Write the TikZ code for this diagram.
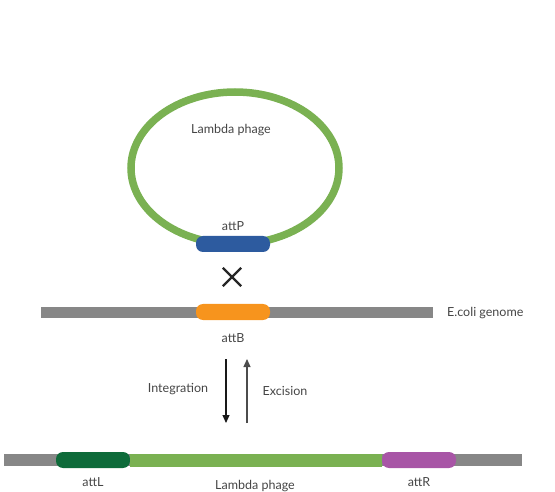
\documentclass[tikz,border=0pt]{standalone}
\usepackage{fontspec}
\setmainfont{Lato}
\usepackage{tikz}
\usetikzlibrary{arrows.meta,positioning}
\definecolor{phagegreen}{HTML}{7AB152}
\definecolor{genomegrey}{HTML}{878787}
\definecolor{attpblue}{HTML}{2D5B9F}
\definecolor{attborange}{HTML}{F7941D}
\definecolor{attlgreen}{HTML}{0E6B3A}
\definecolor{attrpurple}{HTML}{A855A6}
\definecolor{labelgrey}{HTML}{454545}
\tikzset{
  sitebox/.style={rounded corners=7pt,minimum width=74pt,minimum height=16pt,inner sep=0pt},
  sitelabel/.style={font=\fontsize{12.5}{14}\selectfont,text=labelgrey,inner sep=1pt},
  strand/.style={line width=11pt},
  steparrow/.style={-{Triangle[length=8pt,width=7pt]},line width=1.1pt}
}
\begin{document}
\begin{tikzpicture}[x=1pt,y=-1pt]
  \useasboundingbox (0,0) rectangle (555,492);
  % circular phage
  \draw[phagegreen,line width=7.5pt] (235,168) ellipse (104 and 76);
  \node[sitelabel] (phagetext) at (231,130) {Lambda phage};
  \node[sitebox,fill=attpblue] (attP) at (233,244) {};
  \node[sitelabel,above=4pt of attP] (attPtext) {attP};
  % crossover mark
  \node[minimum size=18pt,inner sep=0pt] (cross) at (232,277) {};
  \draw[line width=2.3pt,black!85] (cross.north west) -- (cross.south east)
    (cross.north east) -- (cross.south west);
  % E. coli genome
  \coordinate (genomeL) at (41,312);
  \coordinate (genomeR) at (433,312);
  \draw[strand,genomegrey] (genomeL) -- (genomeR);
  \node[sitebox,fill=attborange] (attB) at (233,312) {};
  \node[sitelabel,below=12pt of attB] (attBtext) {attB};
  \node[sitelabel,anchor=west] (genometext) at (446,313) {E.coli genome};
  % integration / excision
  \coordinate (intTop) at (226,359);
  \coordinate (intEnd) at (226,423);
  \coordinate (excBot) at (247,423);
  \coordinate (excEnd) at (247,359);
  \draw[steparrow,black!90] (intTop) -- (intEnd);
  \draw[steparrow,black!70] (excBot) -- (excEnd);
  \node[sitelabel] (inttext) at (178,389) {Integration};
  \node[sitelabel] (exctext) at (285,391) {Excision};
  % integrated prophage
  \coordinate (hostL) at (4,460);
  \coordinate (hostR) at (522,460);
  \draw[strand,line width=12pt,genomegrey] (hostL) -- (hostR);
  \node[sitebox,fill=attlgreen] (attL) at (93,460) {};
  \node[sitebox,fill=attrpurple] (attR) at (419,460) {};
  \draw[phagegreen,line width=13pt] (attL.east) -- (attR.west);
  \node[sitelabel,below=8pt of attL] (attLtext) {attL};
  \node[sitelabel] (prophagetext) at (255,486) {Lambda phage};
  \node[sitelabel,below=8pt of attR] (attRtext) {attR};
\end{tikzpicture}
\end{document}
